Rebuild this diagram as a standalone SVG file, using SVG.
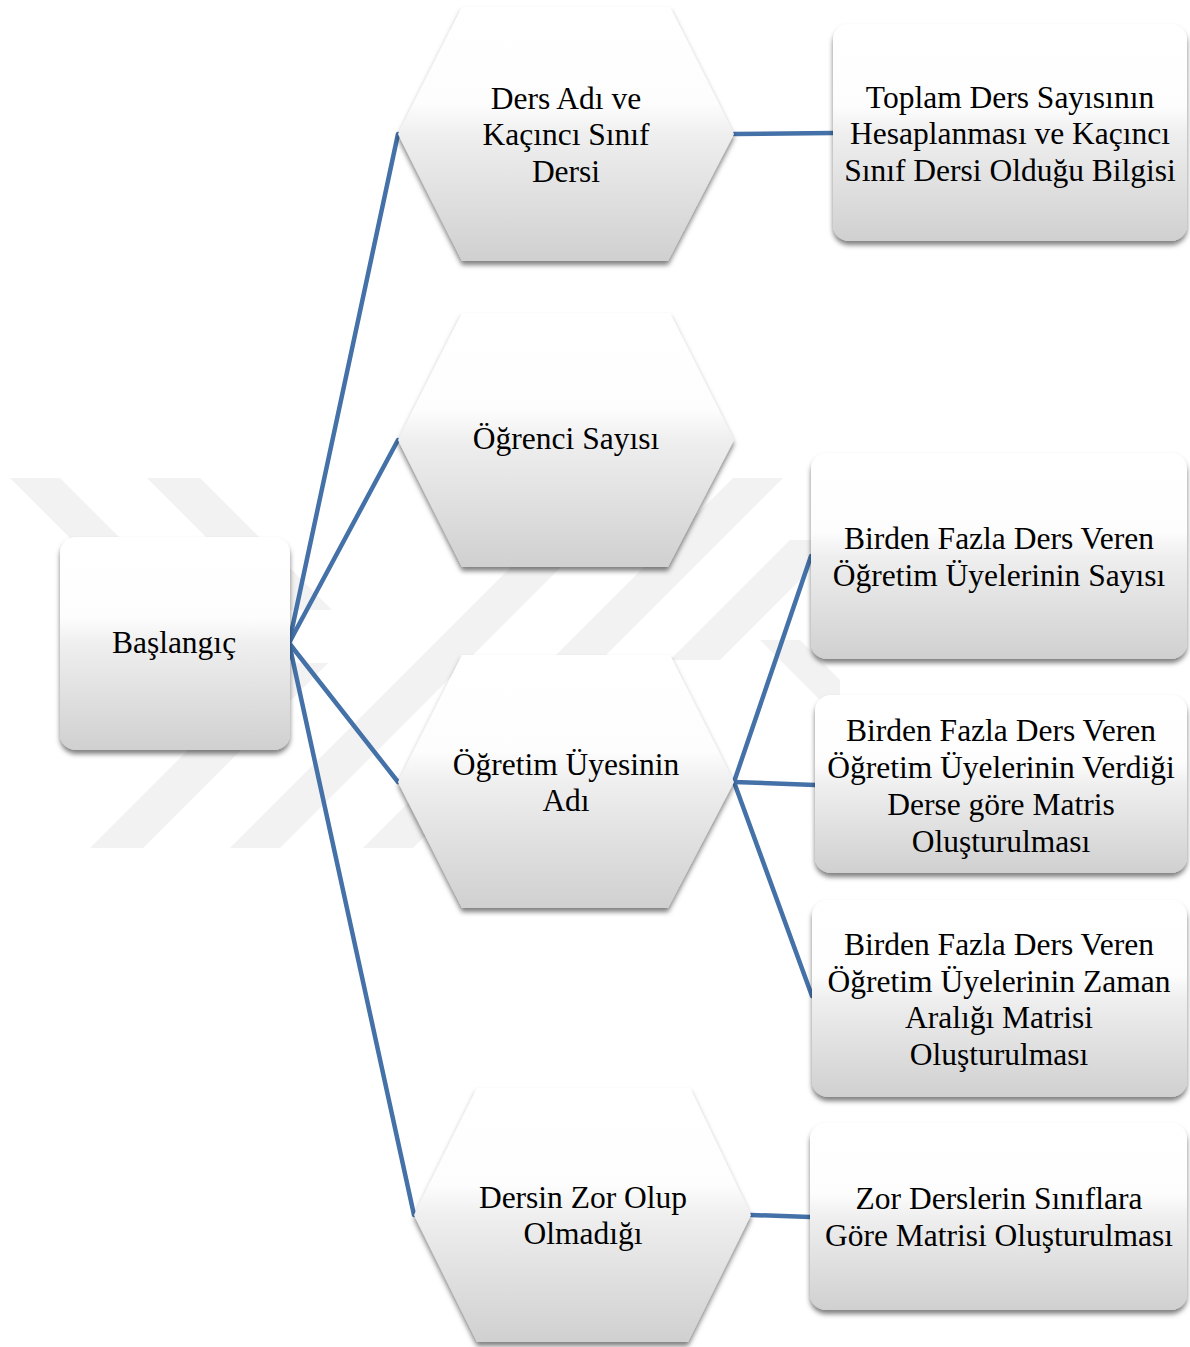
<svg xmlns="http://www.w3.org/2000/svg" width="1190" height="1347" viewBox="0 0 1190 1347">
<defs>
<linearGradient id="g" x1="0" y1="0" x2="0" y2="1">
<stop offset="0" stop-color="#ffffff"/>
<stop offset="0.38" stop-color="#fdfdfd"/>
<stop offset="0.5" stop-color="#efefef"/>
<stop offset="1" stop-color="#d0d0d0"/>
</linearGradient>
<filter id="sh" x="-10%" y="-10%" width="120%" height="125%">
<feDropShadow dx="0" dy="4" stdDeviation="2.5" flood-color="#000" flood-opacity="0.5"/>
</filter>
<style>
.n{fill:url(#g);filter:url(#sh);}
.t{font-family:"Liberation Serif","Times New Roman",serif;font-size:31.5px;fill:#000;text-anchor:middle;}
.c{stroke:#4471a7;stroke-width:4.5;fill:none;stroke-linecap:round;}
.w{fill:#f2f2f2;}
</style>
</defs>
<rect width="1190" height="1347" fill="#fff"/>
<g id="watermark">
<polygon class="w" points="10,478 60,478 192,610 142,610"/>
<polygon class="w" points="147,478 200,478 332,610 279,610"/>
<polygon class="w" points="90,848 143,848 328,663 275,663"/>
<polygon class="w" points="230,848 280,848 610,518 560,518"/>
<polygon class="w" points="363,848 413,848 783,478 733,478"/>
<polygon class="w" points="790,540 840,540 720,660 670,660"/>
<polygon class="w" points="760,640 800,640 840,680 840,720"/>
</g>
<g id="connectors">
<line class="c" x1="289" y1="643" x2="398" y2="134"/>
<line class="c" x1="289" y1="643" x2="398" y2="440"/>
<line class="c" x1="289" y1="643" x2="398" y2="782"/>
<line class="c" x1="289" y1="643" x2="414" y2="1215"/>
<line class="c" x1="734" y1="134" x2="833" y2="133"/>
<line class="c" x1="734" y1="782" x2="811" y2="556"/>
<line class="c" x1="734" y1="782" x2="815" y2="785"/>
<line class="c" x1="734" y1="782" x2="812" y2="996"/>
<line class="c" x1="751" y1="1215" x2="810" y2="1217"/>
</g>
<g id="baslangic">
<rect class="n" x="60" y="537" width="230" height="213" rx="16"/>
<text class="t" x="174" y="653">Başlangıç</text>
</g>
<g id="ders-adi">
<polygon class="n" points="398,134 462,7 670,7 734,134 668,261 462,261"/>
<text class="t" x="566" y="109">Ders Adı ve</text>
<text class="t" x="566" y="145">Kaçıncı Sınıf</text>
<text class="t" x="566" y="182">Dersi</text>
</g>
<g id="ogrenci-sayisi">
<polygon class="n" points="398,440 462,313 670,313 734,440 668,567 462,567"/>
<text class="t" x="566" y="449">Öğrenci Sayısı</text>
</g>
<g id="ogretim-uyesi">
<polygon class="n" points="398,782 462,655 670,655 734,782 668,908 462,908"/>
<text class="t" x="566" y="775">Öğretim Üyesinin</text>
<text class="t" x="566" y="811">Adı</text>
</g>
<g id="dersin-zor">
<polygon class="n" points="414,1215 477,1088 690,1088 751,1215 688,1342 477,1342"/>
<text class="t" x="583" y="1208">Dersin Zor Olup</text>
<text class="t" x="583" y="1244">Olmadığı</text>
</g>
<g id="toplam-ders">
<rect class="n" x="833" y="24" width="354" height="217" rx="16"/>
<text class="t" x="1010" y="108">Toplam Ders Sayısının</text>
<text class="t" x="1010" y="144">Hesaplanması ve Kaçıncı</text>
<text class="t" x="1010" y="181">Sınıf Dersi Olduğu Bilgisi</text>
</g>
<g id="birden-fazla-sayisi">
<rect class="n" x="811" y="453" width="376" height="206" rx="16"/>
<text class="t" x="999" y="549">Birden Fazla Ders Veren</text>
<text class="t" x="999" y="586">Öğretim Üyelerinin Sayısı</text>
</g>
<g id="birden-fazla-verdigi">
<rect class="n" x="815" y="695" width="372" height="178" rx="16"/>
<text class="t" x="1001" y="741">Birden Fazla Ders Veren</text>
<text class="t" x="1001" y="778">Öğretim Üyelerinin Verdiği</text>
<text class="t" x="1001" y="815">Derse göre Matris</text>
<text class="t" x="1001" y="852">Oluşturulması</text>
</g>
<g id="birden-fazla-zaman">
<rect class="n" x="812" y="900" width="375" height="197" rx="16"/>
<text class="t" x="999" y="955">Birden Fazla Ders Veren</text>
<text class="t" x="999" y="992">Öğretim Üyelerinin Zaman</text>
<text class="t" x="999" y="1028">Aralığı Matrisi</text>
<text class="t" x="999" y="1065">Oluşturulması</text>
</g>
<g id="zor-dersler">
<rect class="n" x="810" y="1123" width="377" height="187" rx="16"/>
<text class="t" x="999" y="1209">Zor Derslerin Sınıflara</text>
<text class="t" x="999" y="1246">Göre Matrisi Oluşturulması</text>
</g>
</svg>
